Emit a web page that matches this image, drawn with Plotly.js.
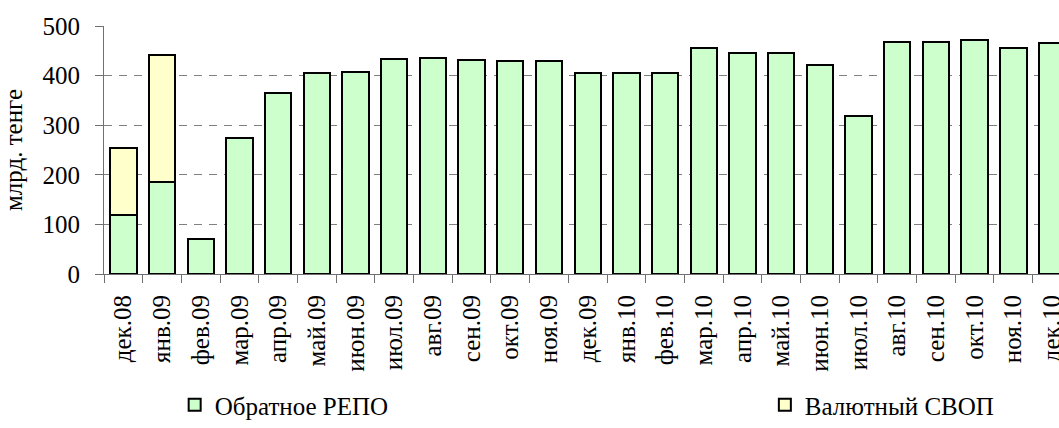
<!DOCTYPE html>
<html>
<head>
<meta charset="utf-8">
<script src="https://cdn.plot.ly/plotly-3.0.1.min.js"></script>
<style>html,body{margin:0;padding:0;background:#fff;overflow:hidden}</style>
</head>
<body>
<div id="chart" style="width:1059px;height:428px"></div>
<script>
var months = ["дек.08","янв.09","фев.09","мар.09","апр.09","май.09","июн.09","июл.09","авг.09","сен.09","окт.09","ноя.09","дек.09","янв.10","фев.10","мар.10","апр.10","май.10","июн.10","июл.10","авг.10","сен.10","окт.10","ноя.10","дек.10"];
var repo = [118,186,71,274,365,405,407,434,436,432,430,430,406,406,406,455,446,446,422,318,467,467,471,455,466];
var swap = [137,255,0,0,0,0,0,0,0,0,0,0,0,0,0,0,0,0,0,0,0,0,0,0,0];
var seriesNames = ["Обратное РЕПО","Валютный СВОП"];
var yTicks = [0,100,200,300,400,500];

var font = "'Liberation Serif', 'Times New Roman', 'DejaVu Serif', serif";
var traces = [
  {type:"bar", name:seriesNames[0], x:months, y:repo, legend:"legend",
   marker:{color:"#CCFFCC", line:{color:"#000", width:2}}, hoverinfo:"x+y"},
  {type:"bar", name:seriesNames[1], x:months, y:swap, legend:"legend2",
   marker:{color:"#FFFFCC", line:{color:"#000", width:2}}, hoverinfo:"x+y"}
];
var layout = {
  width:1059, height:428,
  margin:{l:104, r:0, t:26, b:148, pad:0},
  barmode:"stack", bargap:0.32,
  paper_bgcolor:"#fff", plot_bgcolor:"#fff",
  font:{family:font, size:25, color:"#000"},
  xaxis:{type:"category", range:[-0.5,24.18], tickangle:-90,
    showgrid:false, zeroline:false, showline:true, linecolor:"#707070", linewidth:1,
    ticks:"outside", tickson:"boundaries", ticklen:8, tickcolor:"#707070", tickwidth:1,
    ticklabelstandoff:10, tickfont:{family:font, size:25, color:"#000"}, automargin:false},
  yaxis:{range:[0,500], tickvals:yTicks, ticktext:yTicks.map(String),
    showgrid:true, gridcolor:"#808080", griddash:"8px,7px", gridwidth:1,
    zeroline:false, showline:true, linecolor:"#707070", linewidth:1,
    ticks:"outside", ticklen:8, tickcolor:"#707070", tickwidth:1,
    ticklabelstandoff:10, tickfont:{family:font, size:25, color:"#000"},
    title:{text:"млрд. тенге", font:{family:font, size:25, color:"#000"}, standoff:18},
    automargin:false},
  showlegend:true,
  legend:{x:0.074, y:-0.531, xanchor:"left", yanchor:"middle", orientation:"h",
    font:{family:font, size:25, color:"#000"}, bgcolor:"rgba(0,0,0,0)"},
  legend2:{x:0.692, y:-0.531, xanchor:"left", yanchor:"middle", orientation:"h",
    font:{family:font, size:25, color:"#000"}, bgcolor:"rgba(0,0,0,0)"}
};
Plotly.newPlot("chart", traces, layout, {displayModeBar:false, staticPlot:true});
</script>
</body>
</html>
